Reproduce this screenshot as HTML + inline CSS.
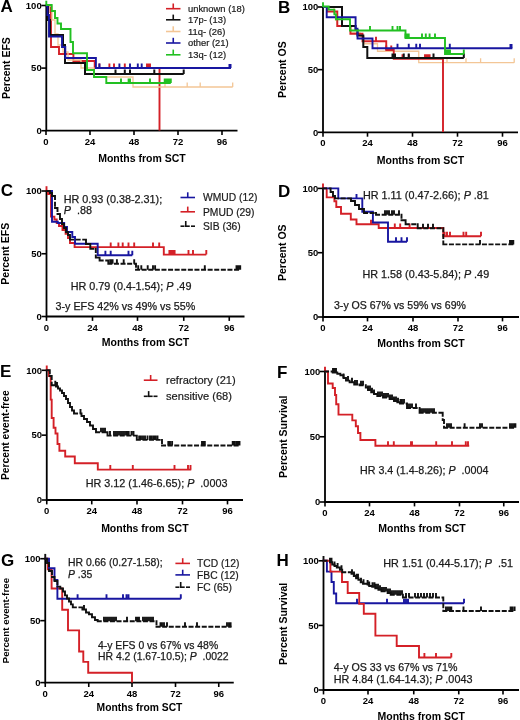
<!DOCTYPE html>
<html><head><meta charset="utf-8"><style>
html,body{margin:0;padding:0;background:#fff;}
svg{display:block;font-family:"Liberation Sans", sans-serif;will-change:transform;}
</style></head><body>
<svg width="520" height="720" viewBox="0 0 520 720">
<rect width="520" height="720" fill="#fff"/>
<path d="M46.3 4.5 V130.7 H237.5" fill="none" stroke="#000" stroke-width="1.8"/>
<line x1="41.3" y1="5.5" x2="46.3" y2="5.5" stroke="#000" stroke-width="1.6" />
<text x="41.699999999999996" y="8.8" font-size="9.5" font-weight="bold" text-anchor="end" fill="#000" >100</text>
<line x1="41.3" y1="68.1" x2="46.3" y2="68.1" stroke="#000" stroke-width="1.6" />
<text x="41.699999999999996" y="71.4" font-size="9.5" font-weight="bold" text-anchor="end" fill="#000" >50</text>
<line x1="41.3" y1="130.7" x2="46.3" y2="130.7" stroke="#000" stroke-width="1.6" />
<text x="41.699999999999996" y="134.0" font-size="9.5" font-weight="bold" text-anchor="end" fill="#000" >0</text>
<line x1="46" y1="130.7" x2="46" y2="135.1" stroke="#000" stroke-width="1.6" />
<text x="46" y="144.7" font-size="9.5" font-weight="bold" text-anchor="middle" fill="#000" >0</text>
<line x1="90" y1="130.7" x2="90" y2="135.1" stroke="#000" stroke-width="1.6" />
<text x="90" y="144.7" font-size="9.5" font-weight="bold" text-anchor="middle" fill="#000" >24</text>
<line x1="134" y1="130.7" x2="134" y2="135.1" stroke="#000" stroke-width="1.6" />
<text x="134" y="144.7" font-size="9.5" font-weight="bold" text-anchor="middle" fill="#000" >48</text>
<line x1="178" y1="130.7" x2="178" y2="135.1" stroke="#000" stroke-width="1.6" />
<text x="178" y="144.7" font-size="9.5" font-weight="bold" text-anchor="middle" fill="#000" >72</text>
<line x1="222" y1="130.7" x2="222" y2="135.1" stroke="#000" stroke-width="1.6" />
<text x="222" y="144.7" font-size="9.5" font-weight="bold" text-anchor="middle" fill="#000" >96</text>
<text x="141.9" y="161.7" font-size="10.5" font-weight="bold" text-anchor="middle" fill="#000" >Months from SCT</text>
<text x="0" y="0" font-size="10.5" font-weight="bold" text-anchor="middle" fill="#000" transform="translate(10 68.1) rotate(-90)">Percent EFS</text>
<text x="0.5" y="12.1" font-size="17" font-weight="bold" text-anchor="start" fill="#000" >A</text>
<path d="M323 6 V132.3 H518" fill="none" stroke="#000" stroke-width="1.8"/>
<line x1="318" y1="7" x2="323" y2="7" stroke="#000" stroke-width="1.6" />
<text x="318.4" y="10.3" font-size="9.5" font-weight="bold" text-anchor="end" fill="#000" >100</text>
<line x1="318" y1="69.65" x2="323" y2="69.65" stroke="#000" stroke-width="1.6" />
<text x="318.4" y="72.95" font-size="9.5" font-weight="bold" text-anchor="end" fill="#000" >50</text>
<line x1="318" y1="132.3" x2="323" y2="132.3" stroke="#000" stroke-width="1.6" />
<text x="318.4" y="135.6" font-size="9.5" font-weight="bold" text-anchor="end" fill="#000" >0</text>
<line x1="323" y1="132.3" x2="323" y2="136.70000000000002" stroke="#000" stroke-width="1.6" />
<text x="323" y="146.3" font-size="9.5" font-weight="bold" text-anchor="middle" fill="#000" >0</text>
<line x1="367.5" y1="132.3" x2="367.5" y2="136.70000000000002" stroke="#000" stroke-width="1.6" />
<text x="367.5" y="146.3" font-size="9.5" font-weight="bold" text-anchor="middle" fill="#000" >24</text>
<line x1="412.5" y1="132.3" x2="412.5" y2="136.70000000000002" stroke="#000" stroke-width="1.6" />
<text x="412.5" y="146.3" font-size="9.5" font-weight="bold" text-anchor="middle" fill="#000" >48</text>
<line x1="457.5" y1="132.3" x2="457.5" y2="136.70000000000002" stroke="#000" stroke-width="1.6" />
<text x="457.5" y="146.3" font-size="9.5" font-weight="bold" text-anchor="middle" fill="#000" >72</text>
<line x1="502.5" y1="132.3" x2="502.5" y2="136.70000000000002" stroke="#000" stroke-width="1.6" />
<text x="502.5" y="146.3" font-size="9.5" font-weight="bold" text-anchor="middle" fill="#000" >96</text>
<text x="420.5" y="164.0" font-size="10.5" font-weight="bold" text-anchor="middle" fill="#000" >Months from SCT</text>
<text x="0" y="0" font-size="10.5" font-weight="bold" text-anchor="middle" fill="#000" transform="translate(286 69.65) rotate(-90)">Percent OS</text>
<text x="278" y="12.6" font-size="17" font-weight="bold" text-anchor="start" fill="#000" >B</text>
<path d="M46.5 190 V316.5 H244.5" fill="none" stroke="#000" stroke-width="1.8"/>
<line x1="41.5" y1="191" x2="46.5" y2="191" stroke="#000" stroke-width="1.6" />
<text x="41.9" y="194.3" font-size="9.5" font-weight="bold" text-anchor="end" fill="#000" >100</text>
<line x1="41.5" y1="253.75" x2="46.5" y2="253.75" stroke="#000" stroke-width="1.6" />
<text x="41.9" y="257.05" font-size="9.5" font-weight="bold" text-anchor="end" fill="#000" >50</text>
<line x1="41.5" y1="316.5" x2="46.5" y2="316.5" stroke="#000" stroke-width="1.6" />
<text x="41.9" y="319.8" font-size="9.5" font-weight="bold" text-anchor="end" fill="#000" >0</text>
<line x1="46.5" y1="316.5" x2="46.5" y2="320.9" stroke="#000" stroke-width="1.6" />
<text x="46.5" y="330.5" font-size="9.5" font-weight="bold" text-anchor="middle" fill="#000" >0</text>
<line x1="92.5" y1="316.5" x2="92.5" y2="320.9" stroke="#000" stroke-width="1.6" />
<text x="92.5" y="330.5" font-size="9.5" font-weight="bold" text-anchor="middle" fill="#000" >24</text>
<line x1="137.5" y1="316.5" x2="137.5" y2="320.9" stroke="#000" stroke-width="1.6" />
<text x="137.5" y="330.5" font-size="9.5" font-weight="bold" text-anchor="middle" fill="#000" >48</text>
<line x1="183.75" y1="316.5" x2="183.75" y2="320.9" stroke="#000" stroke-width="1.6" />
<text x="183.75" y="330.5" font-size="9.5" font-weight="bold" text-anchor="middle" fill="#000" >72</text>
<line x1="229.25" y1="316.5" x2="229.25" y2="320.9" stroke="#000" stroke-width="1.6" />
<text x="229.25" y="330.5" font-size="9.5" font-weight="bold" text-anchor="middle" fill="#000" >96</text>
<text x="145.5" y="346.2" font-size="10.5" font-weight="bold" text-anchor="middle" fill="#000" >Months from SCT</text>
<text x="0" y="0" font-size="10.5" font-weight="bold" text-anchor="middle" fill="#000" transform="translate(9.2 253.75) rotate(-90)">Percent EFS</text>
<text x="0.7" y="196.1" font-size="17" font-weight="bold" text-anchor="start" fill="#000" >C</text>
<path d="M323 187.4 V317 H519" fill="none" stroke="#000" stroke-width="1.8"/>
<line x1="318" y1="188.4" x2="323" y2="188.4" stroke="#000" stroke-width="1.6" />
<text x="318.4" y="191.7" font-size="9.5" font-weight="bold" text-anchor="end" fill="#000" >100</text>
<line x1="318" y1="252.7" x2="323" y2="252.7" stroke="#000" stroke-width="1.6" />
<text x="318.4" y="256.0" font-size="9.5" font-weight="bold" text-anchor="end" fill="#000" >50</text>
<line x1="318" y1="317" x2="323" y2="317" stroke="#000" stroke-width="1.6" />
<text x="318.4" y="320.3" font-size="9.5" font-weight="bold" text-anchor="end" fill="#000" >0</text>
<line x1="323" y1="317" x2="323" y2="321.4" stroke="#000" stroke-width="1.6" />
<text x="323" y="331" font-size="9.5" font-weight="bold" text-anchor="middle" fill="#000" >0</text>
<line x1="367.5" y1="317" x2="367.5" y2="321.4" stroke="#000" stroke-width="1.6" />
<text x="367.5" y="331" font-size="9.5" font-weight="bold" text-anchor="middle" fill="#000" >24</text>
<line x1="413" y1="317" x2="413" y2="321.4" stroke="#000" stroke-width="1.6" />
<text x="413" y="331" font-size="9.5" font-weight="bold" text-anchor="middle" fill="#000" >48</text>
<line x1="458" y1="317" x2="458" y2="321.4" stroke="#000" stroke-width="1.6" />
<text x="458" y="331" font-size="9.5" font-weight="bold" text-anchor="middle" fill="#000" >72</text>
<line x1="502.5" y1="317" x2="502.5" y2="321.4" stroke="#000" stroke-width="1.6" />
<text x="502.5" y="331" font-size="9.5" font-weight="bold" text-anchor="middle" fill="#000" >96</text>
<text x="421.0" y="347" font-size="10.5" font-weight="bold" text-anchor="middle" fill="#000" >Months from SCT</text>
<text x="0" y="0" font-size="10.5" font-weight="bold" text-anchor="middle" fill="#000" transform="translate(286 252.7) rotate(-90)">Percent OS</text>
<text x="278" y="196.6" font-size="17" font-weight="bold" text-anchor="start" fill="#000" >D</text>
<path d="M46.75 369.3 V500 H243" fill="none" stroke="#000" stroke-width="1.8"/>
<line x1="41.75" y1="370.3" x2="46.75" y2="370.3" stroke="#000" stroke-width="1.6" />
<text x="42.15" y="373.6" font-size="9.5" font-weight="bold" text-anchor="end" fill="#000" >100</text>
<line x1="41.75" y1="435.15" x2="46.75" y2="435.15" stroke="#000" stroke-width="1.6" />
<text x="42.15" y="438.45" font-size="9.5" font-weight="bold" text-anchor="end" fill="#000" >50</text>
<line x1="41.75" y1="500" x2="46.75" y2="500" stroke="#000" stroke-width="1.6" />
<text x="42.15" y="503.3" font-size="9.5" font-weight="bold" text-anchor="end" fill="#000" >0</text>
<line x1="46.75" y1="500" x2="46.75" y2="504.4" stroke="#000" stroke-width="1.6" />
<text x="46.75" y="514" font-size="9.5" font-weight="bold" text-anchor="middle" fill="#000" >0</text>
<line x1="91.75" y1="500" x2="91.75" y2="504.4" stroke="#000" stroke-width="1.6" />
<text x="91.75" y="514" font-size="9.5" font-weight="bold" text-anchor="middle" fill="#000" >24</text>
<line x1="137" y1="500" x2="137" y2="504.4" stroke="#000" stroke-width="1.6" />
<text x="137" y="514" font-size="9.5" font-weight="bold" text-anchor="middle" fill="#000" >48</text>
<line x1="182.5" y1="500" x2="182.5" y2="504.4" stroke="#000" stroke-width="1.6" />
<text x="182.5" y="514" font-size="9.5" font-weight="bold" text-anchor="middle" fill="#000" >72</text>
<line x1="227.5" y1="500" x2="227.5" y2="504.4" stroke="#000" stroke-width="1.6" />
<text x="227.5" y="514" font-size="9.5" font-weight="bold" text-anchor="middle" fill="#000" >96</text>
<text x="144.88" y="531.5" font-size="10.5" font-weight="bold" text-anchor="middle" fill="#000" >Months from SCT</text>
<text x="0" y="0" font-size="10.3" font-weight="bold" text-anchor="middle" fill="#000" transform="translate(8.7 435.15) rotate(-90)">Percent event-free</text>
<text x="-0.1" y="377.2" font-size="17" font-weight="bold" text-anchor="start" fill="#000" >E</text>
<path d="M325 370.5 V502 H519" fill="none" stroke="#000" stroke-width="1.8"/>
<line x1="320" y1="371.5" x2="325" y2="371.5" stroke="#000" stroke-width="1.6" />
<text x="320.4" y="374.8" font-size="9.5" font-weight="bold" text-anchor="end" fill="#000" >100</text>
<line x1="320" y1="436.75" x2="325" y2="436.75" stroke="#000" stroke-width="1.6" />
<text x="320.4" y="440.05" font-size="9.5" font-weight="bold" text-anchor="end" fill="#000" >50</text>
<line x1="320" y1="502" x2="325" y2="502" stroke="#000" stroke-width="1.6" />
<text x="320.4" y="505.3" font-size="9.5" font-weight="bold" text-anchor="end" fill="#000" >0</text>
<line x1="325" y1="502" x2="325" y2="506.4" stroke="#000" stroke-width="1.6" />
<text x="325" y="516" font-size="9.5" font-weight="bold" text-anchor="middle" fill="#000" >0</text>
<line x1="369.5" y1="502" x2="369.5" y2="506.4" stroke="#000" stroke-width="1.6" />
<text x="369.5" y="516" font-size="9.5" font-weight="bold" text-anchor="middle" fill="#000" >24</text>
<line x1="414.5" y1="502" x2="414.5" y2="506.4" stroke="#000" stroke-width="1.6" />
<text x="414.5" y="516" font-size="9.5" font-weight="bold" text-anchor="middle" fill="#000" >48</text>
<line x1="459.5" y1="502" x2="459.5" y2="506.4" stroke="#000" stroke-width="1.6" />
<text x="459.5" y="516" font-size="9.5" font-weight="bold" text-anchor="middle" fill="#000" >72</text>
<line x1="503.75" y1="502" x2="503.75" y2="506.4" stroke="#000" stroke-width="1.6" />
<text x="503.75" y="516" font-size="9.5" font-weight="bold" text-anchor="middle" fill="#000" >96</text>
<text x="422.0" y="532.3" font-size="10.5" font-weight="bold" text-anchor="middle" fill="#000" >Months from SCT</text>
<text x="0" y="0" font-size="10.5" font-weight="bold" text-anchor="middle" fill="#000" transform="translate(287 436.75) rotate(-90)">Percent Survival</text>
<text x="277" y="377.6" font-size="17" font-weight="bold" text-anchor="start" fill="#000" >F</text>
<path d="M45.25 557.7 V682.6 H233.75" fill="none" stroke="#000" stroke-width="1.8"/>
<line x1="40.25" y1="558.7" x2="45.25" y2="558.7" stroke="#000" stroke-width="1.6" />
<text x="40.65" y="562.0" font-size="9.5" font-weight="bold" text-anchor="end" fill="#000" >100</text>
<line x1="40.25" y1="620.6500000000001" x2="45.25" y2="620.6500000000001" stroke="#000" stroke-width="1.6" />
<text x="40.65" y="623.95" font-size="9.5" font-weight="bold" text-anchor="end" fill="#000" >50</text>
<line x1="40.25" y1="682.6" x2="45.25" y2="682.6" stroke="#000" stroke-width="1.6" />
<text x="40.65" y="685.9" font-size="9.5" font-weight="bold" text-anchor="end" fill="#000" >0</text>
<line x1="45.25" y1="682.6" x2="45.25" y2="687.0" stroke="#000" stroke-width="1.6" />
<text x="45.25" y="696.6" font-size="9.5" font-weight="bold" text-anchor="middle" fill="#000" >0</text>
<line x1="88.75" y1="682.6" x2="88.75" y2="687.0" stroke="#000" stroke-width="1.6" />
<text x="88.75" y="696.6" font-size="9.5" font-weight="bold" text-anchor="middle" fill="#000" >24</text>
<line x1="132" y1="682.6" x2="132" y2="687.0" stroke="#000" stroke-width="1.6" />
<text x="132" y="696.6" font-size="9.5" font-weight="bold" text-anchor="middle" fill="#000" >48</text>
<line x1="175.5" y1="682.6" x2="175.5" y2="687.0" stroke="#000" stroke-width="1.6" />
<text x="175.5" y="696.6" font-size="9.5" font-weight="bold" text-anchor="middle" fill="#000" >72</text>
<line x1="218.75" y1="682.6" x2="218.75" y2="687.0" stroke="#000" stroke-width="1.6" />
<text x="218.75" y="696.6" font-size="9.5" font-weight="bold" text-anchor="middle" fill="#000" >96</text>
<text x="139.5" y="711.4" font-size="10.3" font-weight="bold" text-anchor="middle" fill="#000" >Months from SCT</text>
<text x="0" y="0" font-size="9.8" font-weight="bold" text-anchor="middle" fill="#000" transform="translate(8.7 620.65) rotate(-90)">Percent event-free</text>
<text x="1" y="566.1" font-size="17" font-weight="bold" text-anchor="start" fill="#000" >G</text>
<path d="M323.5 559.8 V690 H519" fill="none" stroke="#000" stroke-width="1.8"/>
<line x1="318.5" y1="560.8" x2="323.5" y2="560.8" stroke="#000" stroke-width="1.6" />
<text x="318.9" y="564.1" font-size="9.5" font-weight="bold" text-anchor="end" fill="#000" >100</text>
<line x1="318.5" y1="625.4" x2="323.5" y2="625.4" stroke="#000" stroke-width="1.6" />
<text x="318.9" y="628.7" font-size="9.5" font-weight="bold" text-anchor="end" fill="#000" >50</text>
<line x1="318.5" y1="690" x2="323.5" y2="690" stroke="#000" stroke-width="1.6" />
<text x="318.9" y="693.3" font-size="9.5" font-weight="bold" text-anchor="end" fill="#000" >0</text>
<line x1="323.5" y1="690" x2="323.5" y2="694.4" stroke="#000" stroke-width="1.6" />
<text x="323.5" y="704" font-size="9.5" font-weight="bold" text-anchor="middle" fill="#000" >0</text>
<line x1="368" y1="690" x2="368" y2="694.4" stroke="#000" stroke-width="1.6" />
<text x="368" y="704" font-size="9.5" font-weight="bold" text-anchor="middle" fill="#000" >24</text>
<line x1="413.75" y1="690" x2="413.75" y2="694.4" stroke="#000" stroke-width="1.6" />
<text x="413.75" y="704" font-size="9.5" font-weight="bold" text-anchor="middle" fill="#000" >48</text>
<line x1="458.75" y1="690" x2="458.75" y2="694.4" stroke="#000" stroke-width="1.6" />
<text x="458.75" y="704" font-size="9.5" font-weight="bold" text-anchor="middle" fill="#000" >72</text>
<line x1="503" y1="690" x2="503" y2="694.4" stroke="#000" stroke-width="1.6" />
<text x="503" y="704" font-size="9.5" font-weight="bold" text-anchor="middle" fill="#000" >96</text>
<text x="421.25" y="720" font-size="10.5" font-weight="bold" text-anchor="middle" fill="#000" >Months from SCT</text>
<text x="0" y="0" font-size="10.5" font-weight="bold" text-anchor="middle" fill="#000" transform="translate(286.5 623.9) rotate(-90)">Percent Survival</text>
<text x="276.5" y="566.1" font-size="17" font-weight="bold" text-anchor="start" fill="#000" >H</text>
<line x1="46.3" y1="5.5" x2="46.3" y2="0.7" stroke="#22c022" stroke-width="1.9" />
<line x1="323" y1="7" x2="323" y2="2.2" stroke="#22c022" stroke-width="1.9" />
<line x1="46.5" y1="191" x2="46.5" y2="186.2" stroke="#d42027" stroke-width="1.9" />
<line x1="323" y1="188.4" x2="323" y2="183.6" stroke="#d42027" stroke-width="1.9" />
<line x1="46.75" y1="370.3" x2="46.75" y2="365.5" stroke="#d42027" stroke-width="1.9" />
<line x1="325" y1="371.5" x2="325" y2="366.7" stroke="#d42027" stroke-width="1.9" />
<line x1="45.25" y1="558.7" x2="45.25" y2="553.9" stroke="#111" stroke-width="1.9" />
<line x1="323.5" y1="560.8" x2="323.5" y2="556.0" stroke="#111" stroke-width="1.9" />
<path d="M46 6 H50.5 V6 H50.5 V12 H51 V47 H59 V47 H59 V54 H73.4 V54 H73.4 V61 H94.7 V61 H94.7 V68 H159.5 V130.5" fill="none" stroke="#d42027" stroke-width="1.9"/>
<path d="M99.4 68 V63.5 M109.4 68 V63.5 M114 68 V63.5 M124.8 68 V63.5 M147 68 V63.5 M148.5 68 V63.5 M150 68 V63.5 " fill="none" stroke="#d42027" stroke-width="1.9"/>
<path d="M46 6 H52 V6 H52 V20 H55 V20 H55 V34 H58 V34 H58 V45 H63 V45 H63 V52 H68 V52 H68 V60 H81 V60 H81 V68 H94 V68 H94 V77 H133 V77 H133 V87 H232.7" fill="none" stroke="#f3c696" stroke-width="1.3"/>
<path d="M165 87 V82.5 M187.2 87 V82.5 M200.2 87 V82.5 M232.7 87 V82.5 " fill="none" stroke="#f3c696" stroke-width="1.3"/>
<path d="M46 6 H48 V6 H48 V20 H50 V20 H50 V35 H63 V35 H63 V45 H65 V45 H65 V63 H85 V63 H85 V74 H183.7" fill="none" stroke="#111" stroke-width="2"/>
<path d="M115.5 74 V69.5 M124.8 74 V69.5 M130 74 V69.5 M154.3 74 V69.5 M183.7 74 V69.5 " fill="none" stroke="#111" stroke-width="2"/>
<path d="M46 6 H47.5 V6 H47.5 V15 H49 V15 H49 V36.5 H62 V36.5 H62 V47 H65.3 V47 H65.3 V58 H95.9 V58 H95.9 V68 H231" fill="none" stroke="#1816a0" stroke-width="1.9"/>
<path d="M99.4 68 V63.5 M119.4 68 V63.5 M130 68 V63.5 M137.8 68 V63.5 M141.7 68 V63.5 " fill="none" stroke="#1816a0" stroke-width="1.9"/>
<rect x="228.5" y="64" width="3" height="4" fill="#1816a0"/>
<path d="M46 5 H51.7 V5 H51.7 V11 H55 V11 H55 V18 H57.5 V18 H57.5 V23.5 H61 V23.5 H61 V29 H70.5 V29 H70.5 V42 H73 V42 H73 V53.3 H87 V53.3 H87 V70 H94 V70 H94 V77 H106.3 V77 H106.3 V83 H170.8" fill="none" stroke="#22c022" stroke-width="1.9"/>
<path d="M121 83 V78.5 M128.6 83 V78.5 M130 83 V78.5 M150 83 V78.5 M164.7 83 V78.5 M166 83 V78.5 M167.5 83 V78.5 M169 83 V78.5 M170.8 83 V78.5 " fill="none" stroke="#22c022" stroke-width="1.9"/>
<line x1="166" y1="8.7" x2="180.5" y2="8.7" stroke="#d42027" stroke-width="1.6" />
<line x1="173.25" y1="8.7" x2="173.25" y2="3.499999999999999" stroke="#d42027" stroke-width="1.6" />
<text x="188" y="12.08" font-size="9.4" font-weight="normal" text-anchor="start" fill="#1a1a1a" stroke="#1a1a1a" stroke-width="0.2">unknown (18)</text>
<line x1="166" y1="19.8" x2="180.5" y2="19.8" stroke="#111" stroke-width="1.6" />
<line x1="173.25" y1="19.8" x2="173.25" y2="14.600000000000001" stroke="#111" stroke-width="1.6" />
<text x="188" y="23.18" font-size="9.4" font-weight="normal" text-anchor="start" fill="#1a1a1a" stroke="#1a1a1a" stroke-width="0.2">17p- (13)</text>
<line x1="166" y1="31.5" x2="180.5" y2="31.5" stroke="#f3c696" stroke-width="1.6" />
<line x1="173.25" y1="31.5" x2="173.25" y2="26.3" stroke="#f3c696" stroke-width="1.6" />
<text x="188" y="34.88" font-size="9.4" font-weight="normal" text-anchor="start" fill="#1a1a1a" stroke="#1a1a1a" stroke-width="0.2">11q- (26)</text>
<line x1="166" y1="43" x2="180.5" y2="43" stroke="#1816a0" stroke-width="1.6" />
<line x1="173.25" y1="43" x2="173.25" y2="37.8" stroke="#1816a0" stroke-width="1.6" />
<text x="188" y="46.38" font-size="9.4" font-weight="normal" text-anchor="start" fill="#1a1a1a" stroke="#1a1a1a" stroke-width="0.2">other (21)</text>
<line x1="166" y1="54.8" x2="180.5" y2="54.8" stroke="#22c022" stroke-width="1.6" />
<line x1="173.25" y1="54.8" x2="173.25" y2="49.599999999999994" stroke="#22c022" stroke-width="1.6" />
<text x="188" y="58.18" font-size="9.4" font-weight="normal" text-anchor="start" fill="#1a1a1a" stroke="#1a1a1a" stroke-width="0.2">13q- (12)</text>
<path d="M323 7 H334 V7 H334 V13 H335.5 V13 H335.5 V20 H337 V20 H337 V26 H351 V26 H351 V33 H360 V33 H360 V36.5 H364 V36.5 H364 V43.75 H377.5 V43.75 H377.5 V51.25 H418.75 V51.25 H418.75 V62.7 H514.2" fill="none" stroke="#f3c696" stroke-width="1.3"/>
<path d="M447 62.7 V58.2 M466 62.7 V58.2 M480.6 62.7 V58.2 M514.2 62.7 V58.2 " fill="none" stroke="#f3c696" stroke-width="1.3"/>
<path d="M323 7 H327 V7 H327 V11.5 H337.3 V11.5 H337.3 V26 H350.4 V26 H350.4 V33.7 H362.5 V33.7 H362.5 V41.25 H386.25 V41.25 H386.25 V50 H393.75 V50 H393.75 V58.75 H443 V132" fill="none" stroke="#d42027" stroke-width="1.9"/>
<path d="M376 41.25 V36.75 M386.25 50 V45.5 M391.25 50 V45.5 M402.5 58.75 V54.25 M408.75 58.75 V54.25 M425 58.75 V54.25 M426.5 58.75 V54.25 M428 58.75 V54.25 M429.6 58.75 V54.25 " fill="none" stroke="#d42027" stroke-width="1.9"/>
<path d="M323 7 H342 V7 H342 V26 H355.6 V26 H355.6 V30 H357.5 V30 H357.5 V35.6 H363.3 V35.6 H363.3 V47 H367.3 V47 H367.3 V57.9 H463.8" fill="none" stroke="#111" stroke-width="2"/>
<path d="M392.5 57.9 V53.4 M393.5 57.9 V53.4 M395 57.9 V53.4 M403.75 57.9 V53.4 M408.75 57.9 V53.4 M433.5 57.9 V53.4 M463.8 57.9 V53.4 " fill="none" stroke="#111" stroke-width="2"/>
<path d="M323 7 H326.7 V7 H326.7 V17.3 H355.6 V17.3 H355.6 V28.8 H357.5 V28.8 H357.5 V38.5 H372.5 V38.5 H372.5 V48.3 H512.3" fill="none" stroke="#1816a0" stroke-width="1.9"/>
<path d="M397.5 48.3 V43.8 M408.75 48.3 V43.8 M416.25 48.3 V43.8 M420 48.3 V43.8 M449.8 48.3 V43.8 " fill="none" stroke="#1816a0" stroke-width="1.9"/>
<rect x="509.5" y="44" width="3" height="4.3" fill="#1816a0"/>
<path d="M323 6.5 H328.7 V6.5 H328.7 V9.6 H334.4 V9.6 H334.4 V14.4 H336 V14.4 H336 V19.2 H350 V19.2 H350 V30.5 H405.5 V30.5 H405.5 V38 H445 V38 H445 V54 H463.8" fill="none" stroke="#22c022" stroke-width="1.9"/>
<path d="M370 30.5 V26.0 M392.5 30.5 V26.0 M397.5 30.5 V26.0 M400 30.5 V26.0 M405.5 38 V33.5 M407 38 V33.5 M408.75 38 V33.5 M422 38 V33.5 M425.8 38 V33.5 M429.6 38 V33.5 M435 38 V33.5 M446 54 V49.5 M447.5 54 V49.5 M449 54 V49.5 M450 54 V49.5 M463.8 54 V49.5 " fill="none" stroke="#22c022" stroke-width="1.9"/>
<path d="M46.5 191 H48 V191 H48 V194 H51 V194 H51 V216.6 H54.4 V216.6 H54.4 V219.5 H56.7 V219.5 H56.7 V223 H59 V223 H59 V226 H62.5 V226 H62.5 V230 H65.6 V230 H65.6 V233.8 H68 V233.8 H68 V238 H70 V238 H70 V243 H74.6 V243 H74.6 V247.1 H163.8 V247.1 H163.8 V254.6 H206.3" fill="none" stroke="#d42027" stroke-width="1.9"/>
<path d="M110.7 247.1 V242.6 M118.4 247.1 V242.6 M122.7 247.1 V242.6 M128.5 247.1 V242.6 M134.2 247.1 V242.6 M153 247.1 V242.6 M159.2 247.1 V242.6 M169.4 254.6 V250.1 M171 254.6 V250.1 M172.8 254.6 V250.1 M174.6 254.6 V250.1 M188.5 254.6 V250.1 M193 254.6 V250.1 M206.3 254.6 V250.1 " fill="none" stroke="#d42027" stroke-width="1.9"/>
<path d="M46.5 191 H52 V191 H52 V221.8 H57.8 V221.8 H57.8 V223 H64.2 V223 H64.2 V227 H67 V227 H67 V232 H72.3 V232 H72.3 V237 H75 V237 H75 V243.8 H97.7 V243.8 H97.7 V255.2 H132.3" fill="none" stroke="#1816a0" stroke-width="1.9"/>
<path d="M105.4 255.2 V250.7 M110.7 255.2 V250.7 M128.5 255.2 V250.7 M132.3 255.2 V250.7 " fill="none" stroke="#1816a0" stroke-width="1.9"/>
<path d="M46.5 191 H50 M50 191 V193 M50 193 H52 M52 193 V196 M52 196 H55 M55 196 V208 M55 208 H57.5 M57.5 208 V214 M57.5 214 H60 M60 214 V219 M60 219 H62 M62 219 V224 M62 224 H64 M64 224 V228 M64 228 H66 M66 228 V232 M66 232 H68 M68 232 V235 M68 235 H70 M70 235 V239.6 M70 239.6 H86 M86 239.6 V244 M86 244 H90.3 M90.3 244 V248.9 M90.3 248.9 H95.8 M95.8 248.9 V257.6 M95.8 257.6 H99.6 M99.6 257.6 V260.5 M99.6 260.5 H108.3 M108.3 260.5 V263.8 M108.3 263.8 H136 M136 263.8 V269.8 M136 269.8 H240.2 " fill="none" stroke="#111" stroke-width="1.9" stroke-dasharray="3.1 3.5" stroke-linecap="square"/>
<path d="M110.2 263.8 V259.3 M111.4 263.8 V259.3 M112.6 263.8 V259.3 M116.9 263.8 V259.3 M123.7 263.8 V259.3 M134.2 263.8 V259.3 M138.2 269.8 V265.3 M141.3 269.8 V265.3 M147.7 269.8 V265.3 M153 269.8 V265.3 M155.1 269.8 V265.3 M204.8 269.8 V265.3 M236.5 269.8 V265.3 M237.5 269.8 V265.3 M238.5 269.8 V265.3 M239.7 269.8 V265.3 M240.2 269.8 V265.3 " fill="none" stroke="#111" stroke-width="1.9"/>
<line x1="180.5" y1="197.5" x2="195" y2="197.5" stroke="#1816a0" stroke-width="1.6" />
<line x1="187.75" y1="197.5" x2="187.75" y2="192.3" stroke="#1816a0" stroke-width="1.6" />
<text x="203" y="201.21" font-size="10.3" font-weight="normal" text-anchor="start" fill="#1a1a1a" stroke="#1a1a1a" stroke-width="0.2">WMUD (12)</text>
<line x1="180.5" y1="211.8" x2="195" y2="211.8" stroke="#d42027" stroke-width="1.6" />
<line x1="187.75" y1="211.8" x2="187.75" y2="206.60000000000002" stroke="#d42027" stroke-width="1.6" />
<text x="203" y="215.51" font-size="10.3" font-weight="normal" text-anchor="start" fill="#1a1a1a" stroke="#1a1a1a" stroke-width="0.2">PMUD (29)</text>
<line x1="180.5" y1="226.2" x2="184.5" y2="226.2" stroke="#111" stroke-width="1.6" />
<line x1="191" y1="226.2" x2="195" y2="226.2" stroke="#111" stroke-width="1.6" />
<line x1="185.75" y1="226.2" x2="189.75" y2="226.2" stroke="#111" stroke-width="1.6" />
<line x1="185.75" y1="227.0" x2="185.75" y2="221.0" stroke="#111" stroke-width="1.6" />
<text x="203" y="229.91" font-size="10.3" font-weight="normal" text-anchor="start" fill="#1a1a1a" stroke="#1a1a1a" stroke-width="0.2">SIB (36)</text>
<path d="M323 188.4 H326.7 V188.4 H326.7 V197.4 H334.4 V197.4 H334.4 V201.3 H336.3 V201.3 H336.3 V207 H341 V207 H341 V213.8 H350.8 V213.8 H350.8 V219.5 H356.5 V219.5 H356.5 V224.3 H378.7 V224.3 H378.7 V228 H443.3 V228 H443.3 V236.3 H481" fill="none" stroke="#d42027" stroke-width="1.9"/>
<path d="M371 224.3 V219.8 M394.8 228 V223.5 M400.2 228 V223.5 M409.6 228 V223.5 M444.6 236.3 V231.8 M447 236.3 V231.8 M450 236.3 V231.8 M463.5 236.3 V231.8 M466.2 236.3 V231.8 M481 236.3 V231.8 " fill="none" stroke="#d42027" stroke-width="1.9"/>
<path d="M323 188.4 H338.3 V188.4 H338.3 V198.4 H362.3 V198.4 H362.3 V211.8 H372.9 V211.8 H372.9 V222.5 H388 V222.5 H388 V241.7 H407" fill="none" stroke="#1816a0" stroke-width="1.9"/>
<path d="M356.5 198.4 V193.9 M396 241.7 V237.2 M401.5 241.7 V237.2 M407 241.7 V237.2 " fill="none" stroke="#1816a0" stroke-width="1.9"/>
<path d="M323 188.4 H330.6 M330.6 188.4 V192 M330.6 192 H333 M333 192 V196 M333 196 H335 M335 196 V198.4 M335 198.4 H351 M351 198.4 V201 M351 201 H355 M355 201 V205 M355 205 H359 M359 205 V209 M359 209 H364 M364 209 V213 M364 213 H376 M376 213 V214.8 M376 214.8 H401.5 M401.5 214.8 V220.2 M401.5 220.2 H405.6 M405.6 220.2 V224.2 M405.6 224.2 H417.7 M417.7 224.2 V228.3 M417.7 228.3 H443.3 M443.3 228.3 V244.4 M443.3 244.4 H513.3 " fill="none" stroke="#111" stroke-width="1.9" stroke-dasharray="3.1 3.5" stroke-linecap="square"/>
<path d="M385 214.8 V210.3 M387 214.8 V210.3 M389 214.8 V210.3 M392 214.8 V210.3 M394 214.8 V210.3 M399 214.8 V210.3 M423 228.3 V223.8 M428 228.3 V223.8 M433 228.3 V223.8 M480 244.4 V239.9 M510 244.4 V239.9 M511.5 244.4 V239.9 M513.3 244.4 V239.9 " fill="none" stroke="#111" stroke-width="1.9"/>
<path d="M46.75 370.3 H48.8 V370.3 H48.8 V376 H50.7 V376 H50.7 V399.6 H51.7 V399.6 H51.7 V418 H53.6 V418 H53.6 V427.7 H55.5 V427.7 H55.5 V433.5 H57.5 V433.5 H57.5 V444 H59.4 V444 H59.4 V450.8 H65.2 V450.8 H65.2 V456.5 H74.8 V456.5 H74.8 V463.3 H97.8 V463.3 H97.8 V469.6 H191.25" fill="none" stroke="#d42027" stroke-width="1.9"/>
<path d="M110.3 469.6 V465.1 M132.8 469.6 V465.1 M174.5 469.6 V465.1 M188 469.6 V465.1 M190.5 469.6 V465.1 " fill="none" stroke="#d42027" stroke-width="1.9"/>
<path d="M46.75 370.3 H49.8 M49.8 370.3 V376 M49.8 376 H51.7 M51.7 376 V385.3 M51.7 385.3 H56 M56 385.3 V386.5 M56 386.5 H58 M58 386.5 V388.5 M58 388.5 H60 M60 388.5 V390.5 M60 390.5 H62 M62 390.5 V393 M62 393 H64 M64 393 V396 M64 396 H66 M66 396 V399 M66 399 H68 M68 399 V403 M68 403 H70 M70 403 V407 M70 407 H72 M72 407 V410.5 M72 410.5 H74 M74 410.5 V413.5 M74 413.5 H81.5 M81.5 413.5 V416 M81.5 416 H84 M84 416 V419 M84 419 H87 M87 419 V422 M87 422 H90 M90 422 V425.5 M90 425.5 H93 M93 425.5 V429 M93 429 H96 M96 429 V432.3 M96 432.3 H107.5 M107.5 432.3 V435.6 M107.5 435.6 H136.8 M136.8 435.6 V439.9 M136.8 439.9 H162 M162 439.9 V445.5 M162 445.5 H239.5 " fill="none" stroke="#111" stroke-width="1.9" stroke-dasharray="3.1 3.5" stroke-linecap="square"/>
<path d="M55.3 385.3 V380.8 M57 386.5 V382.0 M80.5 413.5 V409.0 M101 432.3 V427.8 M103 432.3 V427.8 M105 432.3 V427.8 M110 435.6 V431.1 M114 435.6 V431.1 M116 435.6 V431.1 M118 435.6 V431.1 M120 435.6 V431.1 M122 435.6 V431.1 M124 435.6 V431.1 M126 435.6 V431.1 M127.5 435.6 V431.1 M128.7 435.6 V431.1 M131.5 435.6 V431.1 M133.5 435.6 V431.1 M139.2 439.9 V435.4 M141 439.9 V435.4 M143 439.9 V435.4 M145 439.9 V435.4 M147.5 439.9 V435.4 M150 439.9 V435.4 M151.7 439.9 V435.4 M153.7 439.9 V435.4 M155.5 439.9 V435.4 M157.5 439.9 V435.4 M168.3 445.5 V441.0 M170 445.5 V441.0 M172.1 445.5 V441.0 M202 445.5 V441.0 M203.5 445.5 V441.0 M204.8 445.5 V441.0 M232.7 445.5 V441.0 M234.5 445.5 V441.0 M236.5 445.5 V441.0 M238 445.5 V441.0 M239.5 445.5 V441.0 " fill="none" stroke="#111" stroke-width="1.9"/>
<line x1="143.8" y1="380.2" x2="157.5" y2="380.2" stroke="#d42027" stroke-width="1.6" />
<line x1="150.65" y1="380.2" x2="150.65" y2="375.0" stroke="#d42027" stroke-width="1.6" />
<text x="166" y="384.2" font-size="11.1" font-weight="normal" text-anchor="start" fill="#1a1a1a" stroke="#1a1a1a" stroke-width="0.2">refractory (21)</text>
<line x1="143.8" y1="396.3" x2="147.8" y2="396.3" stroke="#111" stroke-width="1.6" />
<line x1="153.5" y1="396.3" x2="157.5" y2="396.3" stroke="#111" stroke-width="1.6" />
<line x1="148.65" y1="396.3" x2="152.65" y2="396.3" stroke="#111" stroke-width="1.6" />
<line x1="148.65" y1="397.1" x2="148.65" y2="391.1" stroke="#111" stroke-width="1.6" />
<text x="166" y="400.3" font-size="11.1" font-weight="normal" text-anchor="start" fill="#1a1a1a" stroke="#1a1a1a" stroke-width="0.2">sensitive (68)</text>
<path d="M325 371.5 H328 V371.5 H328 V383.5 H332.7 V383.5 H332.7 V388 H335 V388 H335 V395 H336.2 V395 H336.2 V404.2 H338.5 V404.2 H338.5 V414.6 H352.3 V414.6 H352.3 V420.4 H355.8 V420.4 H355.8 V426.2 H358 V426.2 H358 V433 H360.4 V433 H360.4 V440 H375.4 V440 H375.4 V445.8 H469.2" fill="none" stroke="#d42027" stroke-width="1.9"/>
<path d="M388 445.8 V441.3 M393.8 445.8 V441.3 M411 445.8 V441.3 M412 445.8 V441.3 M436.2 445.8 V441.3 M452 445.8 V441.3 M465.8 445.8 V441.3 M468 445.8 V441.3 " fill="none" stroke="#d42027" stroke-width="1.9"/>
<path d="M325 371.5 H332.7 M332.7 371.5 V372.5 M332.7 372.5 H337.3 M337.3 372.5 V373.7 M337.3 373.7 H340.4 M340.4 373.7 V375.2 M340.4 375.2 H343.5 M343.5 375.2 V378 M343.5 378 H346 M346 378 V380.6 M346 380.6 H349.6 M349.6 380.6 V382.2 M349.6 382.2 H354.2 M354.2 382.2 V384.5 M354.2 384.5 H359.6 M359.6 384.5 V385.2 M359.6 385.2 H365.8 M365.8 385.2 V387.5 M365.8 387.5 H368 M368 387.5 V390 M368 390 H371.2 M371.2 390 V392.2 M371.2 392.2 H374 M374 392.2 V394 M374 394 H377.3 M377.3 394 V396 M377.3 396 H383 M383 396 V397.5 M383 397.5 H389.6 M389.6 397.5 V399.1 M389.6 399.1 H394 M394 399.1 V401 M394 401 H397.3 M397.3 401 V402.2 M397.3 402.2 H400 M400 402.2 V403.5 M400 403.5 H407 M407 403.5 V408 M407 408 H419.6 M419.6 408 V412.7 M419.6 412.7 H442.7 M442.7 412.7 V420 M442.7 420 H444 M444 420 V427.7 M444 427.7 H515.4 " fill="none" stroke="#111" stroke-width="1.9" stroke-dasharray="3.1 3.5" stroke-linecap="square"/>
<path d="M333 372.5 V368.0 M334.5 372.5 V368.0 M336 372.5 V368.0 M343.5 378 V373.5 M348 380.6 V376.1 M352 382.2 V377.7 M355 384.5 V380.0 M357 384.5 V380.0 M361 385.2 V380.7 M363 385.2 V380.7 M368 390 V385.5 M370 390 V385.5 M372 392.2 V387.7 M374 394 V389.5 M378 396 V391.5 M380 396 V391.5 M382 396 V391.5 M384 397.5 V393.0 M386 397.5 V393.0 M388 397.5 V393.0 M390 399.1 V394.6 M392 399.1 V394.6 M394 401 V396.5 M396 401 V396.5 M398 402.2 V397.7 M400.5 403.5 V399.0 M402 403.5 V399.0 M404 403.5 V399.0 M408 408 V403.5 M410 408 V403.5 M412 408 V403.5 M416 408 V403.5 M420 412.7 V408.2 M422 412.7 V408.2 M424 412.7 V408.2 M426 412.7 V408.2 M428 412.7 V408.2 M430 412.7 V408.2 M432 412.7 V408.2 M434 412.7 V408.2 M447 427.7 V423.2 M449 427.7 V423.2 M451 427.7 V423.2 M464.6 427.7 V423.2 M480 427.7 V423.2 M482 427.7 V423.2 M510 427.7 V423.2 M512 427.7 V423.2 M514 427.7 V423.2 M515.4 427.7 V423.2 " fill="none" stroke="#111" stroke-width="1.9"/>
<path d="M45.25 558.7 H47.8 V558.7 H47.8 V569.3 H51.6 V569.3 H51.6 V588.5 H62.2 V588.5 H62.2 V609.7 H68 V609.7 H68 V630.4 H79.1 V630.4 H79.1 V651.5 H83.3 V651.5 H83.3 V661.9 H88.2 V661.9 H88.2 V672.7 H132 V682.6" fill="none" stroke="#d42027" stroke-width="1.9"/>
<path d="M45.25 558.7 H49 V558.7 H49 V568.3 H54.5 V568.3 H54.5 V580 H57.4 V580 H57.4 V598.8 H180.8" fill="none" stroke="#1816a0" stroke-width="1.9"/>
<path d="M77.6 598.8 V594.3 M106.5 598.8 V594.3 M123 598.8 V594.3 M126.5 598.8 V594.3 M128.5 598.8 V594.3 M180.8 598.8 V594.3 " fill="none" stroke="#1816a0" stroke-width="1.9"/>
<path d="M45.25 558.7 H47 M47 558.7 V563 M47 563 H49 M49 563 V571 M49 571 H52 M52 571 V577 M52 577 H54.5 M54.5 577 V581 M54.5 581 H57.4 M57.4 581 V586.6 M57.4 586.6 H60.3 M60.3 586.6 V588.5 M60.3 588.5 H63 M63 588.5 V591.5 M63 591.5 H65 M65 591.5 V595.4 M65 595.4 H67 M67 595.4 V598.5 M67 598.5 H69 M69 598.5 V601.5 M69 601.5 H71 M71 601.5 V604.4 M71 604.4 H72.8 M72.8 604.4 V607.4 M72.8 607.4 H82.4 M82.4 607.4 V609.5 M82.4 609.5 H86 M86 609.5 V612.5 M86 612.5 H89 M89 612.5 V614.3 M89 614.3 H92 M92 614.3 V617.2 M92 617.2 H95 M95 617.2 V620 M95 620 H97.7 M97.7 620 V621.3 M97.7 621.3 H156.5 M156.5 621.3 V626.7 M156.5 626.7 H230.6 " fill="none" stroke="#111" stroke-width="1.9" stroke-dasharray="3.1 3.5" stroke-linecap="square"/>
<path d="M84 609.5 V605.0 M104 621.3 V616.8 M106 621.3 V616.8 M108 621.3 V616.8 M110 621.3 V616.8 M112 621.3 V616.8 M114 621.3 V616.8 M116 621.3 V616.8 M127 621.3 V616.8 M136 621.3 V616.8 M137.5 621.3 V616.8 M139 621.3 V616.8 M143 621.3 V616.8 M145 621.3 V616.8 M147 621.3 V616.8 M149 621.3 V616.8 M151 621.3 V616.8 M153 621.3 V616.8 M160.5 626.7 V622.2 M162 626.7 V622.2 M164 626.7 V622.2 M167 626.7 V622.2 M185 626.7 V622.2 M197 626.7 V622.2 M227 626.7 V622.2 M229 626.7 V622.2 M230.6 626.7 V622.2 " fill="none" stroke="#111" stroke-width="1.9"/>
<line x1="175.4" y1="563.4" x2="190" y2="563.4" stroke="#d42027" stroke-width="1.6" />
<line x1="182.7" y1="563.4" x2="182.7" y2="558.1999999999999" stroke="#d42027" stroke-width="1.6" />
<text x="197" y="567.11" font-size="10.3" font-weight="normal" text-anchor="start" fill="#1a1a1a" stroke="#1a1a1a" stroke-width="0.2">TCD (12)</text>
<line x1="175.4" y1="574.9" x2="190" y2="574.9" stroke="#1816a0" stroke-width="1.6" />
<line x1="182.7" y1="574.9" x2="182.7" y2="569.6999999999999" stroke="#1816a0" stroke-width="1.6" />
<text x="197" y="578.61" font-size="10.3" font-weight="normal" text-anchor="start" fill="#1a1a1a" stroke="#1a1a1a" stroke-width="0.2">FBC (12)</text>
<line x1="175.4" y1="587.2" x2="179.4" y2="587.2" stroke="#111" stroke-width="1.6" />
<line x1="186" y1="587.2" x2="190" y2="587.2" stroke="#111" stroke-width="1.6" />
<line x1="180.7" y1="587.2" x2="184.7" y2="587.2" stroke="#111" stroke-width="1.6" />
<line x1="180.7" y1="588.0" x2="180.7" y2="582.0" stroke="#111" stroke-width="1.6" />
<text x="197" y="590.91" font-size="10.3" font-weight="normal" text-anchor="start" fill="#1a1a1a" stroke="#1a1a1a" stroke-width="0.2">FC (65)</text>
<path d="M323.5 560.8 H326.9 V560.8 H326.9 V571.6 H331.5 V571.6 H331.5 V582 H333.8 V582 H333.8 V593.5 H336.2 V593.5 H336.2 V603.3 H464" fill="none" stroke="#1816a0" stroke-width="1.9"/>
<path d="M357 603.3 V598.8 M387 603.3 V598.8 M404 603.3 V598.8 M406 603.3 V598.8 M408 603.3 V598.8 M464 603.3 V598.8 " fill="none" stroke="#1816a0" stroke-width="1.9"/>
<path d="M323.5 560.8 H330.4 V560.8 H330.4 V571.6 H342 V571.6 H342 V582 H347.7 V582 H347.7 V593 H359.2 V593 H359.2 V603.9 H363.8 V603.9 H363.8 V613.8 H375.4 V613.8 H375.4 V635.6 H396.7 V635.6 H396.7 V646 H419 V646 H419 V657.5 H451.3" fill="none" stroke="#d42027" stroke-width="1.9"/>
<path d="M424.4 657.5 V653.0 M436 657.5 V653.0 M451.3 657.5 V653.0 " fill="none" stroke="#d42027" stroke-width="1.9"/>
<path d="M323.5 560.8 H330 M330 560.8 V562.2 M330 562.2 H332.2 M332.2 562.2 V564.5 M332.2 564.5 H334.5 M334.5 564.5 V566 M334.5 566 H336.8 M336.8 566 V567.5 M336.8 567.5 H339.9 M339.9 567.5 V569.8 M339.9 569.8 H342.2 M342.2 569.8 V572.2 M342.2 572.2 H351.5 M351.5 572.2 V573.7 M351.5 573.7 H353.8 M353.8 573.7 V576 M353.8 576 H356.1 M356.1 576 V578.3 M356.1 578.3 H358.4 M358.4 578.3 V579.8 M358.4 579.8 H360.7 M360.7 579.8 V582.2 M360.7 582.2 H363 M363 582.2 V583.7 M363 583.7 H367.6 M367.6 583.7 V584.5 M367.6 584.5 H369.2 M369.2 584.5 V586 M369.2 586 H372.2 M372.2 586 V586.8 M372.2 586.8 H375.3 M375.3 586.8 V588.3 M375.3 588.3 H378.4 M378.4 588.3 V589.8 M378.4 589.8 H381.5 M381.5 589.8 V591.4 M381.5 591.4 H387.6 M387.6 591.4 V593 M387.6 593 H390.7 M390.7 593 V594.8 M390.7 594.8 H402.9 M402.9 594.8 V597.5 M402.9 597.5 H443.3 M443.3 597.5 V611 M443.3 611 H514.6 " fill="none" stroke="#111" stroke-width="1.9" stroke-dasharray="3.1 3.5" stroke-linecap="square"/>
<path d="M330 562.2 V557.7 M331.5 562.2 V557.7 M334.5 566 V561.5 M337.6 567.5 V563.0 M341.5 569.8 V565.3 M352 573.7 V569.2 M354 576 V571.5 M356.5 578.3 V573.8 M358 578.3 V573.8 M361 582.2 V577.7 M363.5 583.7 V579.2 M367.6 584.5 V580.0 M369.2 586 V581.5 M372.5 586.8 V582.3 M374.5 586.8 V582.3 M376 588.3 V583.8 M378 588.3 V583.8 M380 589.8 V585.3 M382 591.4 V586.9 M384 591.4 V586.9 M386 591.4 V586.9 M388 593 V588.5 M390 593 V588.5 M392 594.8 V590.3 M394 594.8 V590.3 M396 594.8 V590.3 M398 594.8 V590.3 M400 594.8 V590.3 M402 594.8 V590.3 M406 597.5 V593.0 M409 597.5 V593.0 M415 597.5 V593.0 M418 597.5 V593.0 M421 597.5 V593.0 M424 597.5 V593.0 M427 597.5 V593.0 M430 597.5 V593.0 M433 597.5 V593.0 M436 597.5 V593.0 M446 611 V606.5 M448 611 V606.5 M450 611 V606.5 M451.3 611 V606.5 M463.5 611 V606.5 M481 611 V606.5 M510.6 611 V606.5 M512.5 611 V606.5 M514.6 611 V606.5 " fill="none" stroke="#111" stroke-width="1.9"/>
<text x="63.75" y="202.5" font-size="10.8" font-weight="normal" text-anchor="start" fill="#1a1a1a" xml:space="preserve" stroke="#1a1a1a" stroke-width="0.25"><tspan>HR 0.93 (0.38-2.31);</tspan></text>
<text x="63.75" y="214" font-size="10.8" font-weight="normal" text-anchor="start" fill="#1a1a1a" xml:space="preserve" stroke="#1a1a1a" stroke-width="0.25"><tspan font-style="italic">P</tspan><tspan>&#160;&#160;.88</tspan></text>
<text x="70.75" y="290" font-size="10.8" font-weight="normal" text-anchor="start" fill="#1a1a1a" xml:space="preserve" stroke="#1a1a1a" stroke-width="0.25"><tspan>HR 0.79 (0.4-1.54); </tspan><tspan font-style="italic">P</tspan><tspan> .49</tspan></text>
<text x="55.5" y="310" font-size="10.75" font-weight="normal" text-anchor="start" fill="#1a1a1a" xml:space="preserve" stroke="#1a1a1a" stroke-width="0.25"><tspan>3-y EFS 42% vs 49% vs 55%</tspan></text>
<text x="363" y="198.7" font-size="10.8" font-weight="normal" text-anchor="start" fill="#1a1a1a" xml:space="preserve" stroke="#1a1a1a" stroke-width="0.25"><tspan>HR 1.11 (0.47-2.66); </tspan><tspan font-style="italic">P</tspan><tspan> .81</tspan></text>
<text x="362.5" y="278" font-size="10.8" font-weight="normal" text-anchor="start" fill="#1a1a1a" xml:space="preserve" stroke="#1a1a1a" stroke-width="0.25"><tspan>HR 1.58 (0.43-5.84); </tspan><tspan font-style="italic">P</tspan><tspan> .49</tspan></text>
<text x="334" y="309.2" font-size="10.55" font-weight="normal" text-anchor="start" fill="#1a1a1a" xml:space="preserve" stroke="#1a1a1a" stroke-width="0.25"><tspan>3-y OS 67% vs 59% vs 69%</tspan></text>
<text x="85.75" y="486.7" font-size="10.8" font-weight="normal" text-anchor="start" fill="#1a1a1a" xml:space="preserve" stroke="#1a1a1a" stroke-width="0.25"><tspan>HR 3.12 (1.46-6.65); </tspan><tspan font-style="italic">P</tspan><tspan>&#160;&#160;.0003</tspan></text>
<text x="360" y="473.6" font-size="10.7" font-weight="normal" text-anchor="start" fill="#1a1a1a" xml:space="preserve" stroke="#1a1a1a" stroke-width="0.25"><tspan>HR 3.4 (1.4-8.26); </tspan><tspan font-style="italic">P</tspan><tspan>&#160;&#160;.0004</tspan></text>
<text x="68" y="566" font-size="10.4" font-weight="normal" text-anchor="start" fill="#1a1a1a" xml:space="preserve" stroke="#1a1a1a" stroke-width="0.25"><tspan>HR 0.66 (0.27-1.58);</tspan></text>
<text x="68" y="577.5" font-size="10.4" font-weight="normal" text-anchor="start" fill="#1a1a1a" xml:space="preserve" stroke="#1a1a1a" stroke-width="0.25"><tspan font-style="italic">P</tspan><tspan> .35</tspan></text>
<text x="98" y="649" font-size="10.4" font-weight="normal" text-anchor="start" fill="#1a1a1a" xml:space="preserve" stroke="#1a1a1a" stroke-width="0.25"><tspan>4-y EFS 0 vs 67% vs 48%</tspan></text>
<text x="98" y="660" font-size="10.4" font-weight="normal" text-anchor="start" fill="#1a1a1a" xml:space="preserve" stroke="#1a1a1a" stroke-width="0.25"><tspan>HR 4.2 (1.67-10.5); </tspan><tspan font-style="italic">P</tspan><tspan>&#160;&#160;.0022</tspan></text>
<text x="383.3" y="567" font-size="10.8" font-weight="normal" text-anchor="start" fill="#1a1a1a" xml:space="preserve" stroke="#1a1a1a" stroke-width="0.25"><tspan>HR 1.51 (0.44-5.17); </tspan><tspan font-style="italic">P</tspan><tspan>&#160;&#160;.51</tspan></text>
<text x="333.75" y="671.3" font-size="10.65" font-weight="normal" text-anchor="start" fill="#1a1a1a" xml:space="preserve" stroke="#1a1a1a" stroke-width="0.25"><tspan>4-y OS 33 vs 67% vs 71%</tspan></text>
<text x="333.75" y="682.7" font-size="10.8" font-weight="normal" text-anchor="start" fill="#1a1a1a" xml:space="preserve" stroke="#1a1a1a" stroke-width="0.25"><tspan>HR 4.84 (1.64-14.3); </tspan><tspan font-style="italic">P</tspan><tspan> .0043</tspan></text>
</svg></body></html>
